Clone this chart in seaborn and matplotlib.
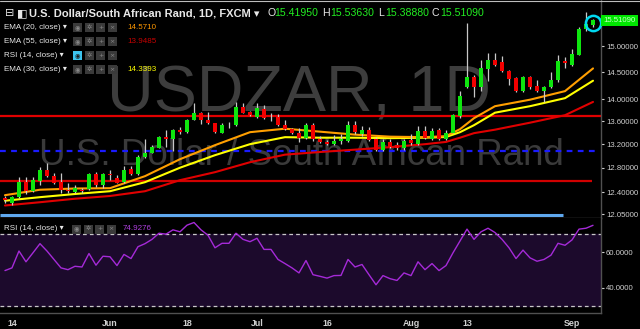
import numpy as np
import pandas as pd
import seaborn as sns
import matplotlib
matplotlib.use("Agg")
import matplotlib.pyplot as plt
from matplotlib.patches import Rectangle
from matplotlib.lines import Line2D
from matplotlib.ticker import NullLocator
import matplotlib.transforms as mtransforms

# ---------------- data ----------------
dates = pd.bdate_range("2018-05-11", "2018-09-06")

opens = [12.299, 12.228, 12.315, 12.568, 12.421, 12.585, 12.761, 12.667, 12.558, 12.432,
         12.405, 12.437, 12.448, 12.695, 12.514, 12.695, 12.624, 12.563, 12.773, 12.690,
         12.974, 13.052, 13.138, 13.327, 13.282, 13.444, 13.414, 13.632, 13.740, 13.632,
         13.562, 13.397, 13.537, 13.527, 13.848, 13.758, 13.679, 13.817, 13.688, 13.679,
         13.527, 13.456, 13.397, 13.310, 13.532, 13.299, 13.241, 13.201, 13.253, 13.253,
         13.532, 13.369, 13.444, 13.299, 13.098, 13.230, 13.184, 13.128, 13.270, 13.201,
         13.432, 13.299, 13.444, 13.299, 13.397, 13.691, 14.225, 14.400, 14.214, 14.551,
         14.729, 14.685, 14.525, 14.381, 14.151, 14.400, 14.238, 14.151, 14.214, 14.349,
         14.710, 14.633, 14.825, 15.330, 15.4195]
highs = [12.336, 12.336, 12.640, 12.640, 12.640, 12.816, 12.873, 12.706, 12.706, 12.542,
         12.514, 12.470, 12.716, 12.723, 12.716, 12.761, 12.678, 12.827, 12.827, 13.013,
         13.282, 13.184, 13.340, 13.444, 13.456, 13.502, 13.650, 13.920, 13.769, 13.769,
         13.572, 13.562, 13.590, 13.949, 13.931, 13.786, 13.920, 13.889, 13.740, 13.727,
         13.620, 13.474, 13.474, 13.562, 13.562, 13.345, 13.270, 13.357, 13.369, 13.602,
         13.602, 13.520, 13.502, 13.327, 13.299, 13.299, 13.241, 13.299, 13.374, 13.514,
         13.514, 13.491, 13.491, 13.444, 13.727, 14.151, 15.450, 14.443, 14.729, 14.870,
         14.870, 14.806, 14.538, 14.400, 14.424, 14.424, 14.349, 14.238, 14.506, 14.825,
         14.791, 14.936, 15.382, 15.686, 15.5363]
lows = [12.219, 12.192, 12.299, 12.379, 12.405, 12.514, 12.650, 12.530, 12.395, 12.389,
        12.389, 12.389, 12.432, 12.486, 12.460, 12.596, 12.542, 12.542, 12.678, 12.678,
        12.957, 13.042, 13.128, 13.155, 13.086, 13.374, 13.397, 13.620, 13.550, 13.550,
        13.397, 13.386, 13.474, 13.514, 13.740, 13.691, 13.668, 13.650, 13.608, 13.514,
        13.444, 13.374, 13.241, 13.299, 13.253, 13.213, 13.184, 13.184, 13.196, 13.230,
        13.369, 13.345, 13.253, 13.081, 13.081, 13.128, 13.098, 13.098, 13.184, 13.184,
        13.299, 13.270, 13.270, 13.270, 13.386, 13.668, 14.196, 14.035, 14.151, 14.336,
        14.614, 14.506, 14.256, 14.133, 14.133, 14.177, 14.133, 13.949, 14.196, 14.317,
        14.570, 14.614, 14.825, 15.302, 15.3888]
closes = [12.271, 12.315, 12.568, 12.421, 12.596, 12.761, 12.662, 12.552, 12.443, 12.416,
          12.476, 12.416, 12.695, 12.514, 12.690, 12.673, 12.552, 12.761, 12.695, 12.974,
          13.052, 13.144, 13.327, 13.282, 13.444, 13.414, 13.632, 13.740, 13.632, 13.562,
          13.414, 13.532, 13.527, 13.848, 13.750, 13.715, 13.830, 13.668, 13.691, 13.527,
          13.456, 13.397, 13.316, 13.532, 13.287, 13.241, 13.201, 13.253, 13.287, 13.532,
          13.404, 13.444, 13.270, 13.098, 13.230, 13.155, 13.128, 13.253, 13.213, 13.432,
          13.316, 13.432, 13.299, 13.397, 13.704, 14.054, 14.400, 14.214, 14.570, 14.729,
          14.633, 14.525, 14.368, 14.151, 14.400, 14.225, 14.151, 14.214, 14.349, 14.716,
          14.667, 14.844, 15.336, 15.436, 15.5109]

rsi = [49.7, 51.2, 60.6, 54.6, 59.6, 64.7, 60.6, 55.9, 51.2, 50.2,
       52.1, 51.7, 59.2, 52.7, 57.7, 57.4, 52.5, 58.7, 56.4, 63.0,
       64.7, 67.1, 70.5, 70.0, 72.4, 71.3, 75.0, 76.5, 72.4, 69.4,
       62.4, 64.9, 64.9, 70.5, 67.1, 65.8, 67.7, 61.5, 61.5, 55.9,
       53.6, 51.2, 48.4, 55.3, 47.4, 46.5, 45.5, 46.9, 47.0, 55.9,
       51.7, 53.1, 47.4, 41.8, 46.9, 45.2, 44.2, 48.4, 46.9, 54.6,
       50.2, 53.6, 49.7, 52.5, 59.6, 66.2, 72.8, 67.1, 71.3, 73.3,
       70.9, 67.1, 62.4, 56.4, 61.1, 56.8, 54.9, 55.9, 58.3, 64.9,
       63.8, 66.8, 72.8, 73.3, 74.93]

ema_idx = [0, 5, 10, 15, 20, 25, 30, 35, 40, 45, 50, 55, 60, 63, 65, 67, 70, 75, 80, 84]
ema20 = [12.352, 12.440, 12.460, 12.465, 12.662, 12.945, 13.184, 13.409, 13.470,
         13.418, 13.366, 13.331, 13.322, 13.340, 13.462, 13.656, 13.871, 13.989, 14.146, 14.5710]
ema30 = [12.263, 12.320, 12.371, 12.416, 12.563, 12.802, 13.013, 13.201, 13.322,
         13.313, 13.313, 13.305, 13.313, 13.325, 13.409, 13.532, 13.754, 13.871, 14.017, 14.3393]
ema55 = [12.187, 12.239, 12.295, 12.339, 12.416, 12.596, 12.728, 12.894, 13.022,
         13.067, 13.107, 13.150, 13.201, 13.240, 13.313, 13.392, 13.453, 13.576, 13.709, 13.9485]

red_levels = [13.69, 12.59]
blue_level = 13.08
lightblue_level = 12.035

price_ticks = [15.0, 14.5, 14.0, 13.6, 13.2, 12.8, 12.4, 12.05]
rsi_ticks = [60, 40]
tick_dates = ["2018-05-14", "2018-06-01", "2018-06-18", "2018-07-02",
              "2018-07-16", "2018-08-01", "2018-08-13", "2018-09-03"]
tick_labels = ["14", "Jun", "18", "Jul", "16", "Aug", "13", "Sep"]

last_o, last_h, last_l, last_c = 15.41950, 15.53630, 15.38880, 15.51090

# ---------------- style ----------------
sns.set_theme(style="dark")
plt.rcParams.update({
    "figure.facecolor": "black", "axes.facecolor": "black",
    "savefig.facecolor": "black", "axes.grid": False,
})
plt.rcParams["font.family"] = ["Liberation Sans", "DejaVu Sans"]

W, H = 640, 329
fig = plt.figure(figsize=(6.4, 3.29), dpi=100)


def fx(x):
    return x / W


def fy(y):
    return 1 - y / H


ax = fig.add_axes([0, fy(218), fx(601), 218 / H])
ax_r = fig.add_axes([0, fy(313), fx(601), 95 / H])

n = len(closes)
xs = np.arange(n)
GREEN, RED = "#0ee60e", "#f20000"

# ---------------- main pane ----------------
ax.set_yscale("log")
ax.set_ylim(11.99, 15.93)
ax.set_xlim(-0.71, 85.14)

ax.text(0.497, 1 - 111 / 218, "USDZAR, 1D", transform=ax.transAxes, ha="center",
        va="baseline", fontsize=46.5, color="#3d3d3d", zorder=0, family=["Liberation Sans"])
ax.text(0.501, 1 - 165 / 218, "U.S. Dollar / South African Rand", transform=ax.transAxes,
        ha="center", va="baseline", fontsize=26.5, color="#3a3a3a", zorder=0,
        family=["Liberation Sans"])

ax.hlines(red_levels[0], -0.71, 85.14, color="#e00000", lw=1.6, zorder=2)
ax.hlines(red_levels[1], -0.71, 83.8, color="#d00000", lw=1.6, zorder=2)
ax.hlines(blue_level, -0.71, 84.6, color="#1a1aff", lw=1.6, linestyles=(0, (2.6, 2.4)), zorder=2)
ax.hlines(lightblue_level, -0.71, 79.7, color="#5fa8ee", lw=2.2, zorder=2)

sns.lineplot(x=ema_idx, y=ema55, ax=ax, color="#e00000", lw=1.5, zorder=3)
sns.lineplot(x=ema_idx, y=ema30, ax=ax, color="#ffff00", lw=1.5, zorder=3)
sns.lineplot(x=ema_idx, y=ema20, ax=ax, color="#ff9f00", lw=1.5, zorder=3)

o = np.array(opens); c = np.array(closes); h = np.array(highs); l = np.array(lows)
up = c >= o
ax.vlines(xs, l, h, color="#c8c8c8", lw=0.9, zorder=4)
bottom = np.minimum(o, c)
height = np.maximum(np.abs(c - o), 0.012)
ax.bar(xs, height, bottom=bottom, width=0.7, color=np.where(up, GREEN, RED),
       edgecolor="none", zorder=5)

ax.plot([n - 1], [(last_o + last_c) / 2], marker="o", ms=11, mfc="none",
        mec="#00d8f0", mew=1.8, zorder=6)

ax.set_yticks(price_ticks)
ax.set_yticklabels([f"{v:.5f}" for v in price_ticks])
ax.yaxis.set_minor_locator(NullLocator())
ax.yaxis.tick_right()
ax.tick_params(axis="y", colors="#d0d0d0", labelsize=5.6, length=2.5, width=0.8, pad=1)
ax.set_xticks([])
for s in ["left", "top"]:
    ax.spines[s].set_visible(False)
for s in ["right", "bottom"]:
    ax.spines[s].set_color("#505050")
    ax.spines[s].set_linewidth(1)

trans = mtransforms.blended_transform_factory(ax.transAxes, ax.transData)
ax.text(1.004, last_c, "15.51090", transform=trans, ha="left", va="center",
        fontsize=5.6, color="#c8ffc8", clip_on=False, zorder=7,
        bbox=dict(boxstyle="square,pad=0.3", fc="#00e600", ec="none"))

# ---------------- RSI pane ----------------
ax_r.set_xlim(-0.71, 85.14)
ax_r.set_ylim(26.06, 79.0)
ax_r.fill_between([-0.71, 85.14], 30, 70, color="#1c0a2c", zorder=0)
ax_r.axhline(70, color="#c8c8c8", lw=0.9, ls=(0, (3, 2.5)), zorder=1)
ax_r.axhline(30, color="#c8c8c8", lw=0.9, ls=(0, (3, 2.5)), zorder=1)
sns.lineplot(x=xs, y=rsi, ax=ax_r, color="#a52ad8", lw=1.0, zorder=3)

ax_r.set_yticks(rsi_ticks)
ax_r.set_yticklabels([f"{v:.4f}" for v in rsi_ticks])
ax_r.yaxis.tick_right()
ax_r.tick_params(axis="y", colors="#d0d0d0", labelsize=5.6, length=2.5, width=0.8, pad=1)

date_list = list(dates.strftime("%Y-%m-%d"))
tick_pos = [date_list.index(d) for d in tick_dates]
ax_r.set_xticks(tick_pos)
ax_r.set_xticklabels(tick_labels, fontweight="bold")
ax_r.tick_params(axis="x", colors="#d0d0d0", labelsize=6.4, length=0, pad=4)
ax_r.set_xlabel(""); ax_r.set_ylabel(""); ax.set_xlabel(""); ax.set_ylabel("")
for s in ["left", "top"]:
    ax_r.spines[s].set_visible(False)
for s in ["right", "bottom"]:
    ax_r.spines[s].set_color("#505050")
    ax_r.spines[s].set_linewidth(1)

# thin light border at the very top of the screenshot
fig.add_artist(Line2D([0, 1], [fy(0.5), fy(0.5)], transform=fig.transFigure,
                      color="#bdbdbd", lw=0.8))

# ---------------- header texts ----------------
FAM = ["Liberation Sans", "DejaVu Sans"]


def T(x, y, s, color="#e8e8e8", size=7.5, weight="normal", ha="left"):
    fig.text(fx(x), fy(y), s, color=color, fontsize=size, fontweight=weight,
             ha=ha, va="center", family=FAM)


def icons(x0, y, highlight=False):
    glyphs = ["◉", "✲", "+", "×"]
    for k, g in enumerate(glyphs):
        xb = x0 + k * 11.5
        hl = highlight and k == 0
        fig.add_artist(Rectangle((fx(xb), fy(y + 4.5)), 9 / W, 9 / H,
                                 transform=fig.transFigure,
                                 fc="#3dc4ef" if hl else "#3a3a3a", ec="none"))
        fig.text(fx(xb + 4.5), fy(y), g, color="#1a1a1a" if hl else "#8a8a8a",
                 fontsize=4.5, ha="center", va="center", family=["DejaVu Sans"])


T(5, 13, "⊟", size=8)
T(17, 13, "◧", size=8)
T(29, 13, "U.S. Dollar/South African Rand, 1D, FXCM ▾", size=8, weight="bold")
T(267, 13, "O", size=7.6)
T(274, 13, "15.41950", color="#22ee22", size=7.6)
T(322, 13, "H", size=7.6)
T(330, 13, "15.53630", color="#22ee22", size=7.6)
T(378, 13, "L", size=7.6)
T(385, 13, "15.38880", color="#22ee22", size=7.6)
T(432, 13, "C", size=7.6)
T(440, 13, "15.51090", color="#22ee22", size=7.6)

legend_rows = [(27.5, "EMA (20, close) ▾", "14.5710", "#ff9800", False),
               (41.5, "EMA (55, close) ▾", "13.9485", "#c80000", False),
               (55.5, "RSI (14, close) ▾", None, None, True),
               (69.5, "EMA (30, close) ▾", "14.3393", "#ffff00", False)]
for y, lab, val, col, hl in legend_rows:
    T(4, y, lab, size=5.8)
    icons(73, y, hl)
    if val:
        T(127, y, val, color=col, size=5.8)

T(4, 229, "RSI (14, close) ▾", size=5.8)
icons(72, 229)
T(123, 229, "74.9276", color="#b040e0", size=5.8)

fig.savefig("out.png", dpi=100, facecolor="black")
